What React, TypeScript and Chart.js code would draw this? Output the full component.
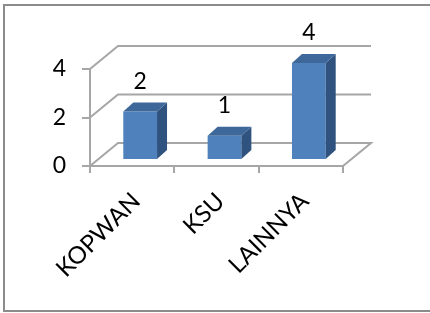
import React, { useEffect, useRef } from "react";
import { Chart, registerables } from "chart.js";

Chart.register(...registerables);

const categories = ["KOPWAN", "KSU", "LAINNYA"];
const values = [2, 1, 4];
const yMin = 0;
const yMax = 4;
const yStep = 2;

const FONT = "Lato, 'Open Sans', sans-serif";
const GRID = "#a6a6a6";
const WALL_DX = 28;
const WALL_DY = -23;
const BAR_SHIFT_X = 8;
const BAR_SHIFT_Y = -6;
const BAR_DX = 10;
const BAR_DY = -9;

const frame3d = {
  id: "frame3d",
  beforeDraw(chart: any) {
    const ctx = chart.ctx;
    ctx.save();
    ctx.fillStyle = "#ffffff";
    ctx.fillRect(0, 0, chart.width, chart.height);
    ctx.strokeStyle = "#8c8c8c";
    ctx.lineWidth = 2;
    ctx.strokeRect(4, 5, chart.width + 20, chart.height - 7);
    ctx.restore();
  },
  beforeDatasetsDraw(chart: any) {
    const ctx = chart.ctx;
    const ys = chart.scales.y;
    const { left, right } = chart.chartArea;
    ctx.save();
    ctx.strokeStyle = GRID;
    ctx.lineWidth = 2;
    ctx.lineCap = "butt";
    for (let v = yMin; v <= yMax; v += yStep) {
      const py = ys.getPixelForValue(v);
      ctx.beginPath();
      ctx.moveTo(left, py);
      ctx.lineTo(left + WALL_DX, py + WALL_DY);
      ctx.lineTo(right + WALL_DX, py + WALL_DY);
      if (v === yMin) ctx.lineTo(right, py);
      ctx.stroke();
    }
    ctx.restore();
    ctx.save();
    ctx.translate(BAR_SHIFT_X, BAR_SHIFT_Y);
  },
  afterDatasetsDraw(chart: any) {
    const ctx = chart.ctx;
    const meta = chart.getDatasetMeta(0);
    meta.data.forEach((bar: any, i: number) => {
      const { x, y, base, width } = bar.getProps(["x", "y", "base", "width"], true);
      const l = x - width / 2;
      const r = x + width / 2;
      ctx.fillStyle = "#30527f";
      ctx.beginPath();
      ctx.moveTo(r, y);
      ctx.lineTo(r + BAR_DX, y + BAR_DY);
      ctx.lineTo(r + BAR_DX, base + BAR_DY);
      ctx.lineTo(r, base);
      ctx.closePath();
      ctx.fill();
      ctx.fillStyle = "#3d6899";
      ctx.beginPath();
      ctx.moveTo(l, y);
      ctx.lineTo(l + BAR_DX, y + BAR_DY);
      ctx.lineTo(r + BAR_DX, y + BAR_DY);
      ctx.lineTo(r, y);
      ctx.closePath();
      ctx.fill();
      ctx.fillStyle = "#000";
      ctx.font = `23px ${FONT}`;
      ctx.textAlign = "center";
      ctx.textBaseline = "middle";
      ctx.fillText(String(values[i]), x, y - 30);
    });
    ctx.restore();
  },
};

export default function App() {
  const ref = useRef<HTMLCanvasElement | null>(null);
  useEffect(() => {
    if (!ref.current) return;
    const chart = new Chart(ref.current, {
      type: "bar",
      data: {
        labels: categories,
        datasets: [
          {
            data: values,
            backgroundColor: "#4f81bd",
            borderWidth: 0,
            categoryPercentage: 1,
            barPercentage: 0.4,
            clip: false as any,
          },
        ],
      },
      options: {
        animation: false,
        responsive: false,
        layout: { padding: { left: 0, top: 69, right: 87, bottom: 0 } },
        plugins: { legend: { display: false }, tooltip: { enabled: false } },
        scales: {
          x: {
            grid: {
              display: true,
              drawOnChartArea: false,
              drawTicks: true,
              tickLength: 7,
              color: GRID,
              lineWidth: 2,
              offset: true,
            },
            border: { display: true, color: GRID, width: 2 },
            ticks: {
              maxRotation: 45,
              minRotation: 45,
              color: "#000",
              padding: 14,
              labelOffset: 4,
              font: { family: FONT, size: 24 },
            },
            afterFit: (s: any) => {
              s.height = 147;
            },
          },
          y: {
            min: yMin,
            max: yMax,
            ticks: {
              stepSize: yStep,
              color: "#000",
              padding: 16,
              font: { family: FONT, size: 23 },
            },
            grid: {
              drawOnChartArea: false,
              drawTicks: true,
              tickLength: 8,
              color: GRID,
              lineWidth: 2,
            },
            border: { display: true, color: GRID, width: 2 },
            afterFit: (s: any) => {
              s.width = 90;
            },
          },
        },
      },
      plugins: [frame3d],
    });
    return () => chart.destroy();
  }, []);
  return (
    <div style={{ position: "absolute", left: 0, top: 0, width: 430, height: 313 }}>
      <canvas ref={ref} width={430} height={313} style={{ display: "block" }} />
    </div>
  );
}
